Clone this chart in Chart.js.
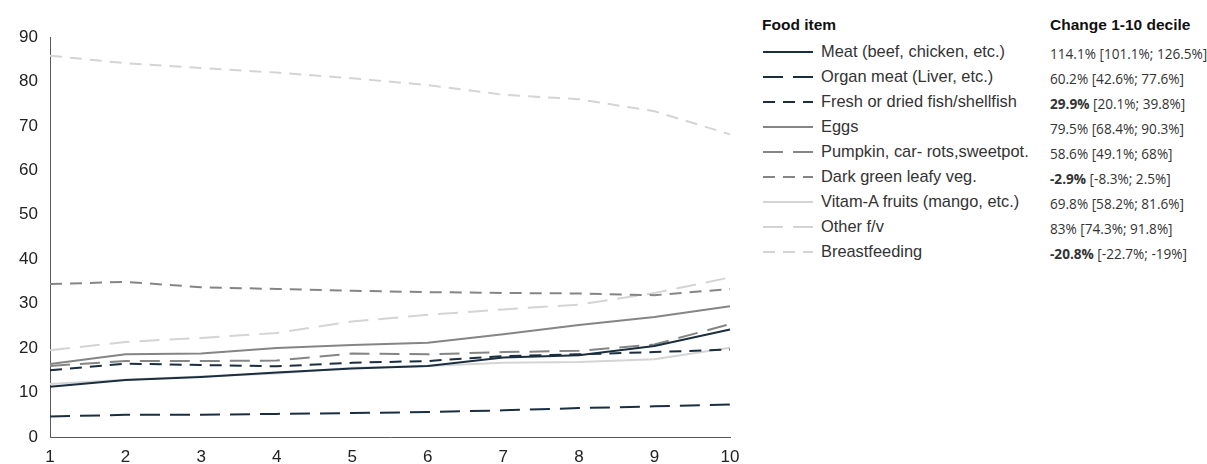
<!DOCTYPE html>
<html>
<head>
<meta charset="utf-8">
<script src="https://cdn.jsdelivr.net/npm/chart.js@4"></script>
<style>
    body { margin: 0; background: #fff; font-family: "Liberation Sans", Arial, sans-serif; }
    #wrap { position: relative; width: 1207px; height: 464px; }
    #chartBox { position: absolute; left: 0; top: 0; width: 750px; height: 464px; }
    #legend { position: absolute; left: 762px; top: 0; width: 445px; }
    .hdr { position: absolute; top: 16px; font-weight: bold; font-size: 15.5px; color: #111; white-space: nowrap; }
    .row { position: absolute; left: 0; height: 20px; width: 445px; }
    .row svg { position: absolute; left: 0; top: 0; }
    .row .name { position: absolute; left: 59px; top: 0px; font-size: 16.4px; color: #333; white-space: nowrap; }
    .row .chg { position: absolute; left: 288px; top: 2px; font-family: "Open Sans", sans-serif; font-size: 13.6px; color: #333; white-space: nowrap; }
</style>
</head>
<body>
<div id="wrap">
    <div id="chartBox"><canvas id="foodChart"></canvas></div>
    <div id="legend"></div>
</div>
<script>
// deciles on the x axis
const deciles = ['1', '2', '3', '4', '5', '6', '7', '8', '9', '10'];

// share consuming each food item, per decile (%)
const meat = [11.3, 12.8, 13.5, 14.5, 15.4, 16.0, 17.9, 18.4, 20.5, 24.2];
const organMeat = [4.6, 5.0, 5.0, 5.2, 5.4, 5.6, 6.0, 6.5, 6.9, 7.3];
const fish = [15.0, 16.5, 16.2, 15.9, 16.7, 17.1, 18.2, 18.6, 19.1, 19.7];
const eggs = [16.4, 18.6, 18.8, 20.0, 20.7, 21.2, 23.1, 25.2, 27.0, 29.4];
const pumpkin = [16.0, 17.1, 17.1, 17.2, 18.8, 18.6, 19.1, 19.4, 20.8, 25.4];
const darkGreen = [34.4, 34.9, 33.7, 33.3, 32.9, 32.6, 32.4, 32.3, 31.9, 33.3];
const vitaminA = [11.9, 12.9, 13.6, 14.3, 15.6, 16.0, 16.7, 16.9, 17.5, 20.1];
const otherFv = [19.5, 21.4, 22.3, 23.4, 26.0, 27.5, 28.7, 29.8, 32.4, 35.9];
const breastfeeding = [85.8, 84.1, 83.0, 82.0, 80.7, 79.2, 77.0, 76.0, 73.3, 68.1];

// change from 1st to 10th decile: [bold part, rest]
const changes = [
    ['', '114.1% [101.1%; 126.5%]'],
    ['', '60.2% [42.6%; 77.6%]'],
    ['29.9%', ' [20.1%; 39.8%]'],
    ['', '79.5% [68.4%; 90.3%]'],
    ['', '58.6% [49.1%; 68%]'],
    ['-2.9%', ' [-8.3%; 2.5%]'],
    ['', '69.8% [58.2%; 81.6%]'],
    ['', '83% [74.3%; 91.8%]'],
    ['-20.8%', ' [-22.7%; -19%]']
];

const yTicks = [0, 10, 20, 30, 40, 50, 60, 70, 80, 90];

const navy = '#1a2e40';
const midGray = '#858585';
const lightGray = '#d4d4d4';
const solid = [];
const longDash = [20, 10];
const shortDash = [12, 8];

const series = [
    { label: 'Meat (beef, chicken, etc.)', data: meat, color: navy, dash: solid },
    { label: 'Organ meat (Liver, etc.)', data: organMeat, color: navy, dash: longDash },
    { label: 'Fresh or dried fish/shellfish', data: fish, color: navy, dash: shortDash },
    { label: 'Eggs', data: eggs, color: midGray, dash: solid },
    { label: 'Pumpkin, car- rots,sweetpot.', data: pumpkin, color: midGray, dash: longDash },
    { label: 'Dark green leafy veg.', data: darkGreen, color: midGray, dash: shortDash },
    { label: 'Vitam-A fruits (mango, etc.)', data: vitaminA, color: lightGray, dash: solid },
    { label: 'Other f/v', data: otherFv, color: lightGray, dash: longDash },
    { label: 'Breastfeeding', data: breastfeeding, color: lightGray, dash: shortDash }
];

const ctx = document.getElementById('foodChart').getContext('2d');
new Chart(ctx, {
    type: 'line',
    data: {
        labels: deciles,
        datasets: series.map(function (s) {
            return {
                label: s.label,
                data: s.data,
                borderColor: s.color,
                backgroundColor: s.color,
                borderDash: s.dash,
                borderWidth: 2,
                pointRadius: 0,
                tension: 0,
                fill: false
            };
        })
    },
    options: {
        responsive: true,
        maintainAspectRatio: false,
        animation: false,
        layout: { padding: { top: 37, right: 20, left: 0, bottom: 0 } },
        plugins: {
            legend: { display: false },
            tooltip: { enabled: false }
        },
        scales: {
            x: {
                offset: false,
                grid: { display: false, drawTicks: false },
                border: { color: '#595959', width: 1 },
                ticks: {
                    color: '#222',
                    font: { family: '"Liberation Sans", Arial', size: 17 },
                    padding: 10,
                    maxRotation: 0
                },
                afterFit: function (scale) { scale.height = 27; }
            },
            y: {
                min: 0,
                max: 90,
                grid: { display: false, drawTicks: false },
                border: { color: '#595959', width: 1 },
                afterBuildTicks: function (scale) {
                    scale.ticks = yTicks.map(function (v) { return { value: v }; });
                },
                ticks: {
                    color: '#222',
                    font: { family: '"Liberation Sans", Arial', size: 17 },
                    padding: 12
                },
                afterFit: function (scale) { scale.width = 50; }
            }
        }
    }
});

// legend built from the same series
const legend = document.getElementById('legend');
legend.innerHTML = '<div class="hdr" style="left:0">Food item</div>' +
    '<div class="hdr" style="left:288px">Change 1-10 decile</div>';
series.forEach(function (s, i) {
    const row = document.createElement('div');
    row.className = 'row';
    row.style.top = (42 + i * 25) + 'px';
    const dash = s.dash.length ? s.dash.join(' ') : 'none';
    const bold = changes[i][0] ? '<b>' + changes[i][0] + '</b>' : '';
    row.innerHTML =
        '<svg width="52" height="20"><line x1="1" y1="10" x2="51" y2="10" stroke="' + s.color +
        '" stroke-width="2" stroke-dasharray="' + dash + '"/></svg>' +
        '<span class="name">' + s.label + '</span>' +
        '<span class="chg">' + bold + changes[i][1] + '</span>';
    legend.appendChild(row);
});
</script>
</body>
</html>
